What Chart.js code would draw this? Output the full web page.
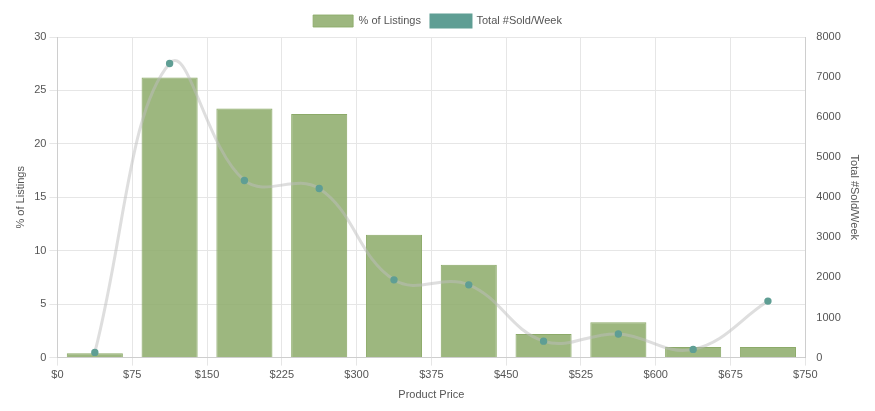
<!DOCTYPE html>
<html><head><meta charset="utf-8">
<script src="https://cdn.jsdelivr.net/npm/chart.js@4"></script>
<style>html,body{margin:0;padding:0;background:#fff}#w{width:875px;height:411px}</style>
</head><body><div id="w"><canvas id="c"></canvas></div>
<script>
const binCenters = [37.5,112.5,187.5,262.5,337.5,412.5,487.5,562.5,637.5,712.5];
const pctListings = [0.4,26.2,23.3,22.8,11.5,8.7,2.2,3.3,1.0,1.0];
const soldPerWeek = [130,7340,4420,4220,1940,1815,410,590,205,1410];
const green='rgba(140,170,105,0.85)', teal='#5f9e94';
Chart.defaults.font.family='Helvetica, Arial, sans-serif';
Chart.defaults.font.size=11;
Chart.defaults.color='#555';
new Chart(document.getElementById('c'),{
  data:{datasets:[
    {type:'line',label:'Total #Sold/Week',data:binCenters.map((x,i)=>({x,y:soldPerWeek[i]})),yAxisID:'y1',
     borderColor:'rgba(190,190,190,0.5)',borderWidth:3,tension:0.4,backgroundColor:teal,
     pointBackgroundColor:teal,pointBorderColor:teal,pointRadius:2.2,order:0},
    {type:'bar',label:'% of Listings',data:binCenters.map((x,i)=>({x,y:pctListings[i]})),yAxisID:'y',
     backgroundColor:green,borderColor:'rgba(140,170,105,1)',borderWidth:1,barPercentage:1,categoryPercentage:0.75,order:1}
  ]},
  options:{responsive:true,maintainAspectRatio:false,animation:false,
    layout:{padding:{left:10,right:10,top:5,bottom:5}},
    plugins:{legend:{reverse:true,labels:{boxWidth:40,boxHeight:12,
      generateLabels(ch){const l=Chart.defaults.plugins.legend.labels.generateLabels(ch);l.forEach(i=>{i.strokeStyle=i.fillStyle;});return l;}}}},
    scales:{
      x:{type:'linear',offset:false,min:0,max:750,ticks:{stepSize:75,callback:v=>'$'+v},title:{display:true,text:'Product Price'},grid:{color:'#e6e6e6',offset:false}},
      y:{position:'left',min:0,max:30,ticks:{stepSize:5},title:{display:true,text:'% of Listings'},grid:{color:'#e6e6e6'}},
      y1:{position:'right',min:0,max:8000,ticks:{stepSize:1000,callback:v=>String(v)},title:{display:true,text:'Total #Sold/Week'},grid:{display:false}}
    }}
});
</script></body></html>
